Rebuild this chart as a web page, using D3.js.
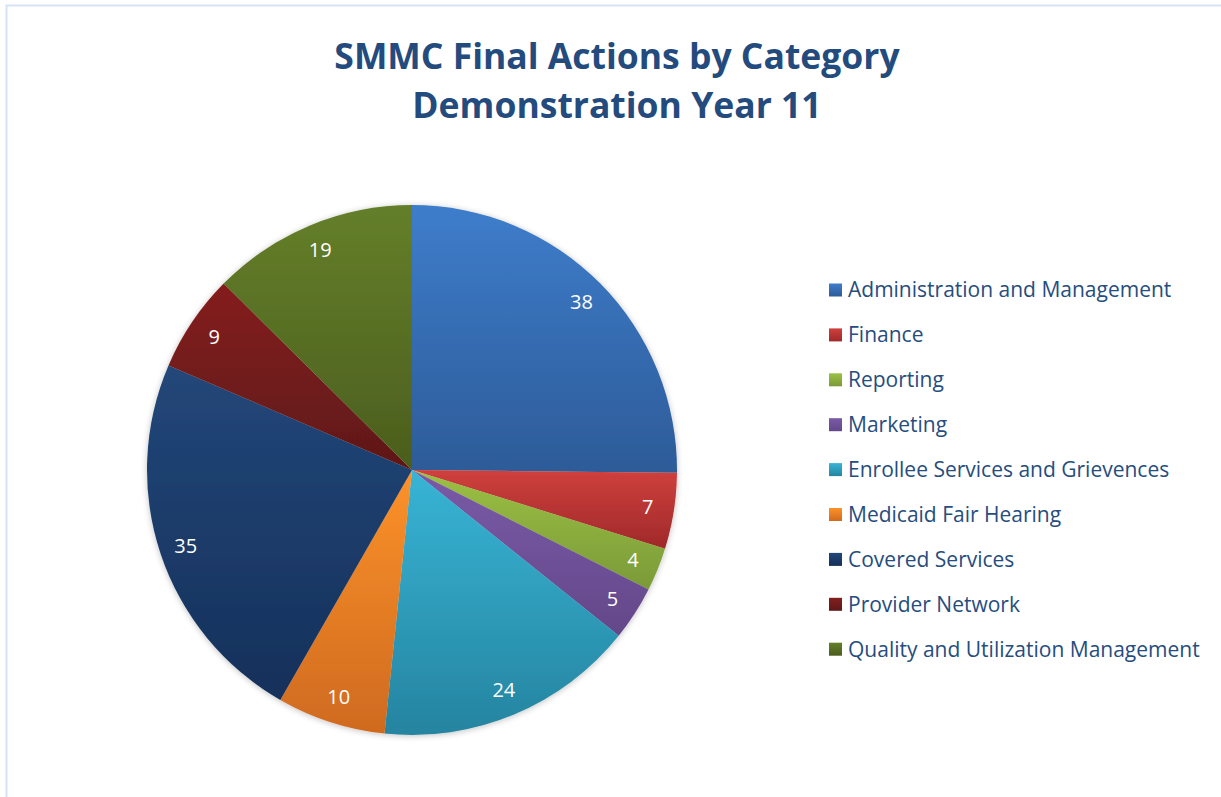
<!DOCTYPE html>
<html>
<head>
<meta charset="utf-8">
<script src="https://cdn.jsdelivr.net/npm/d3@7"></script>
<style>
  body { margin: 0; background: #fff; }
  svg { display: block; font-family: "Open Sans", Lato, sans-serif; }
</style>
</head>
<body>
<script>
  //chart data
  var categories = ["Administration and Management", "Finance", "Reporting", "Marketing",
    "Enrollee Services and Grievences", "Medicaid Fair Hearing", "Covered Services",
    "Provider Network", "Quality and Utilization Management"];
  var values = [38, 7, 4, 5, 24, 10, 35, 9, 19];
  //gradient colours per slice, top and bottom
  var topColors = ["#3e7dcb", "#cf403d", "#9cc044", "#7a5aa8", "#38b4d5", "#fc922a", "#224779", "#851f1f", "#647f2a"];
  var bottomColors = ["#2d5b98", "#a0292a", "#7a9a38", "#634889", "#2584a0", "#cf6a1f", "#15305a", "#5e1818", "#4b5d1d"];
  var titleLines = ["SMMC Final Actions by Category", "Demonstration Year 11"];

  var width = 1221, height = 797;

  var svg = d3.select("body").append("svg")
    .attr("width", width)
    .attr("height", height);

  //chart border, runs off the right and bottom edges
  svg.append("rect")
    .attr("x", 6.5).attr("y", 5.5)
    .attr("width", width + 10).attr("height", height + 10)
    .attr("fill", "none")
    .attr("stroke", "#d6e3f5")
    .attr("stroke-width", 2);

  var defs = svg.append("defs");

  //vertical gradients
  categories.forEach(function(c, i){
    var g = defs.append("linearGradient")
      .attr("id", "grad" + i)
      .attr("x1", 0).attr("y1", 0).attr("x2", 0).attr("y2", 1);
    g.append("stop").attr("offset", "0%").attr("stop-color", topColors[i]);
    g.append("stop").attr("offset", "100%").attr("stop-color", bottomColors[i]);
  });

  //soft shadow round the pie
  var shadow = defs.append("filter").attr("id", "shadow")
    .attr("x", "-10%").attr("y", "-10%").attr("width", "120%").attr("height", "120%");
  shadow.append("feGaussianBlur").attr("in", "SourceAlpha").attr("stdDeviation", 3);
  shadow.append("feOffset").attr("dx", 0).attr("dy", 1).attr("result", "blur");
  shadow.append("feComponentTransfer").append("feFuncA").attr("type", "linear").attr("slope", 0.25);
  var merge = shadow.append("feMerge");
  merge.append("feMergeNode");
  merge.append("feMergeNode").attr("in", "SourceGraphic");

  //title
  svg.append("text")
    .attr("text-anchor", "middle")
    .attr("fill", "#244b7d")
    .attr("font-weight", "bold")
    .attr("font-size", 35.5)
    .selectAll("tspan")
    .data(titleLines)
    .enter()
    .append("tspan")
    .attr("x", 617)
    .attr("y", function(d, i){ return 69 + i * 49; })
    .text(function(d){ return d; });

  //pie
  var cx = 412, cy = 470, radius = 265;

  var pie = d3.pie().sort(null).value(function(d){ return d; });
  var arcs = pie(values);

  var arc = d3.arc().innerRadius(0).outerRadius(radius);
  var labelArc = d3.arc().innerRadius(radius * 0.9).outerRadius(radius * 0.9);

  var pieG = svg.append("g")
    .attr("transform", "translate(" + cx + "," + cy + ")");

  var slices = pieG.append("g").attr("filter", "url(#shadow)");
  slices.selectAll("path")
    .data(arcs)
    .enter()
    .append("path")
    .attr("d", arc)
    .attr("fill", function(d, i){ return "url(#grad" + i + ")"; });

  pieG.selectAll(".label")
    .data(arcs)
    .enter()
    .append("text")
    .attr("class", "label")
    .attr("transform", function(d){ return "translate(" + labelArc.centroid(d) + ")"; })
    .attr("text-anchor", "middle")
    .attr("dy", "0.35em")
    .attr("fill", "#fff")
    .attr("font-size", 20)
    .text(function(d){ return d.data; });

  //legend
  var legend = svg.append("g")
    .attr("transform", "translate(829,290)");

  var items = legend.selectAll(".item")
    .data(categories)
    .enter()
    .append("g")
    .attr("class", "item")
    .attr("transform", function(d, i){ return "translate(0," + (i * 44.9) + ")"; });

  items.append("rect")
    .attr("x", 0).attr("y", -6.5)
    .attr("width", 13).attr("height", 13)
    .attr("fill", function(d, i){ return "url(#grad" + i + ")"; });

  items.append("text")
    .attr("x", 19)
    .attr("dy", "0.35em")
    .attr("fill", "#264d7e")
    .attr("font-size", 21)
    .text(function(d){ return d; });
</script>
</body>
</html>
